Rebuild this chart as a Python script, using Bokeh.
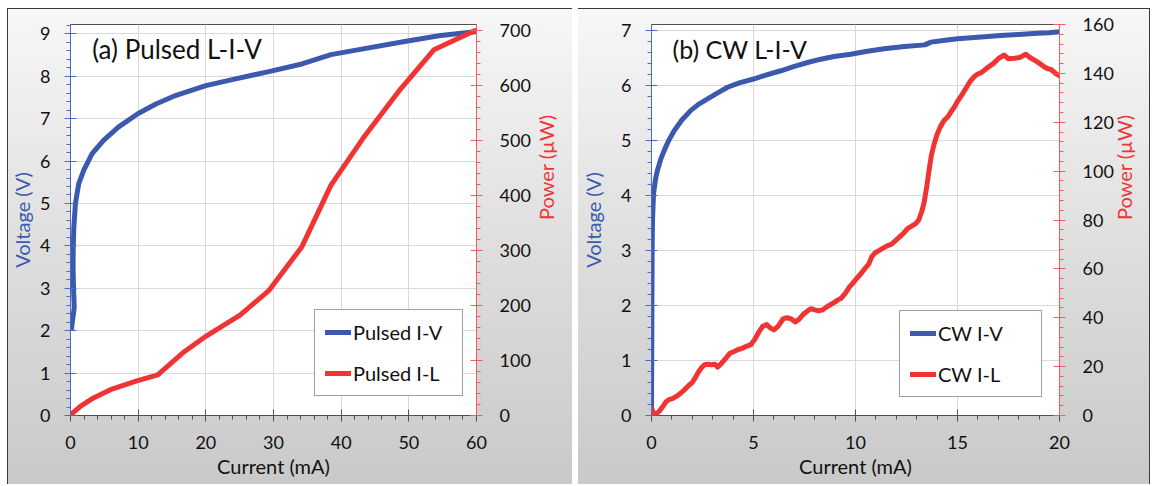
import math
import re
from bokeh.plotting import figure
from bokeh.models import Range1d, LinearAxis, SingleIntervalTicker, Legend, LegendItem, Label
from bokeh.layouts import row
from bokeh.embed import file_html
from bokeh.resources import INLINE

# ---------------- data ----------------
# (a) Pulsed
pulsed_iv_current = [0.15, 0.55, 0.45, 0.38, 0.40, 0.49, 0.73, 1.22, 1.95, 3.17, 4.88, 7.07, 10.0,
                     12.7, 15.6, 20.0, 23.9, 29.3, 34.2, 38.5, 42.0, 49.8, 54.7, 59.8]
pulsed_iv_voltage = [2.05, 2.55, 3.00, 3.50, 3.90, 4.44, 5.00, 5.47, 5.78, 6.17, 6.49, 6.80, 7.12,
                     7.35, 7.55, 7.78, 7.92, 8.11, 8.29, 8.51, 8.61, 8.83, 8.96, 9.05]
pulsed_il_current = [0.0, 1.5, 3.4, 5.9, 9.8, 12.9, 16.6, 20.0, 25.1, 29.3, 34.2, 38.5, 43.4, 48.8, 53.7, 59.8]
pulsed_il_power = [1, 17, 32, 47, 63, 74, 114, 144, 183, 227, 307, 419, 507, 594, 665, 700]

# (b) CW
cw_iv_current = [0.00, 0.01, 0.02, 0.03, 0.05, 0.10, 0.20, 0.29, 0.45, 0.62, 0.85, 1.11, 1.50, 1.93,
                 2.30, 2.75, 3.20, 3.73, 4.30, 5.00, 5.60, 6.34, 7.00, 7.65, 8.30, 8.95, 9.77, 10.50,
                 11.40, 12.40, 13.40, 13.70, 14.30, 15.00, 16.00, 17.10, 18.00, 18.90, 19.50, 20.00]
cw_iv_voltage = [0.00, 1.00, 2.00, 3.00, 3.55, 4.03, 4.30, 4.45, 4.65, 4.81, 5.00, 5.17, 5.37, 5.54,
                 5.65, 5.75, 5.85, 5.96, 6.04, 6.11, 6.18, 6.26, 6.34, 6.41, 6.47, 6.52, 6.56, 6.61,
                 6.66, 6.70, 6.73, 6.78, 6.81, 6.84, 6.87, 6.90, 6.92, 6.94, 6.95, 6.97]
cw_il_current = [0.00, 0.10, 0.20, 0.35, 0.50, 0.70, 0.86, 1.05, 1.25, 1.44, 1.65, 1.85, 2.00, 2.15,
                 2.30, 2.45, 2.60, 2.75, 2.95, 3.10, 3.25, 3.45, 3.65, 3.85, 4.05, 4.25, 4.45, 4.65,
                 4.87, 5.05, 5.25, 5.45, 5.65, 5.80, 6.00, 6.20, 6.45, 6.65, 6.85, 7.05, 7.25, 7.45,
                 7.65, 7.81, 8.00, 8.20, 8.38, 8.60, 8.80, 9.00, 9.12, 9.30, 9.50, 9.70, 9.85, 10.05,
                 10.26, 10.45, 10.65, 10.80, 10.95, 11.15, 11.35, 11.57, 11.75, 11.95, 12.15, 12.35,
                 12.55, 12.75, 12.95, 13.10, 13.25, 13.36, 13.48, 13.60, 13.72, 13.85, 14.00, 14.15,
                 14.34, 14.55, 14.70, 14.83, 15.00, 15.20, 15.40, 15.60, 15.80, 15.95, 16.20, 16.50,
                 16.75, 17.00, 17.28, 17.50, 17.80, 18.05, 18.35, 18.55, 18.75, 18.95, 19.20, 19.40,
                 19.60, 19.80, 20.00]
cw_il_power = [3.0, 1.0, 0.5, 1.5, 3.0, 5.5, 6.5, 7.0, 8.0, 9.2, 10.8, 12.5, 13.5, 15.5,
               17.8, 19.5, 20.8, 21.0, 20.8, 21.0, 19.8, 21.5, 23.5, 25.5, 26.2, 27.0, 27.5, 28.3,
               29.0, 31.0, 34.0, 36.5, 37.2, 36.0, 35.0, 36.5, 39.5, 40.0, 39.5, 38.3, 39.5, 41.5,
               42.8, 43.7, 43.2, 42.8, 43.2, 44.5, 45.5, 46.5, 47.2, 48.0, 50.0, 52.5, 54.0, 56.0,
               58.0, 60.0, 62.0, 65.0, 66.5, 67.5, 68.5, 69.5, 70.0, 71.5, 73.0, 74.5,
               76.5, 77.5, 78.5, 80.0, 83.5, 87.0, 93.0, 100.0, 106.5, 111.0, 115.0, 118.0,
               120.7, 122.5, 124.5, 126.0, 128.5, 131.0, 133.7, 136.5, 138.5, 139.5, 140.5, 142.5,
               144.0, 146.0, 147.5, 146.0, 146.2, 146.5, 147.8, 146.5, 145.5, 144.5, 143.0, 142.0,
               141.5, 140.0, 139.0]

panel_titles = ["(a) Pulsed L-I-V", "(b) CW L-I-V"]
legend_labels_a = ["Pulsed I-V", "Pulsed I-L"]
legend_labels_b = ["CW I-V", "CW I-L"]
x_title = "Current (mA)"
y_title = "Voltage (V)"
y2_title = "Power (\u00b5W)"

# ---------------- style ----------------
FONT = "Lato"
BLUE = "#3b59ad"
RED = "#f03434"
BLUE_AX = "#4a6cc8"
RED_AX = "#f25c5c"
GRID = "#d9d9d9"


def style_axis(ax, color, label, label_color, lab_standoff, ax_standoff):
    ax.axis_line_color = color
    ax.major_tick_line_color = color
    ax.minor_tick_line_color = color
    ax.major_tick_in = 6
    ax.major_tick_out = 6
    ax.minor_tick_in = 0
    ax.minor_tick_out = 4
    ax.major_label_text_font = FONT
    ax.major_label_text_font_size = "18px"
    ax.major_label_text_color = "#111111"
    ax.major_label_standoff = lab_standoff
    ax.axis_label = label
    ax.axis_label_text_font = FONT
    ax.axis_label_text_font_size = "20px"
    ax.axis_label_text_font_style = "normal"
    ax.axis_label_text_color = label_color
    ax.axis_label_standoff = ax_standoff


def make_panel(width, min_left, min_right, xmax, xint, ymax, yint, y2max, y2int,
               x1, y1, x2, y2, title, title_xy, title_size, labels, legend_loc, label_width,
               box_shadow, vlab_standoff, plab_standoff):
    p = figure(width=width, height=476, x_range=Range1d(0, xmax), y_range=Range1d(0, ymax),
               output_backend="svg", toolbar_location=None,
               min_border_left=min_left, min_border_right=min_right,
               min_border_top=16, min_border_bottom=69)
    p.border_fill_color = None
    p.background_fill_color = "white"
    p.outline_line_color = "#505050"
    p.outline_line_width = 1
    p.styles = {"background": "linear-gradient(180deg, #f7f7f7 0%, #dcdcdc 55%, #c9c9c9 100%)",
                "box-shadow": box_shadow}

    p.extra_y_ranges = {"pow": Range1d(0, y2max)}

    xax = p.xaxis[0]
    xax.ticker = SingleIntervalTicker(interval=xint, num_minor_ticks=5)
    style_axis(xax, "#505050", x_title, "#111111", 14, 2)

    yax = p.yaxis[0]
    yax.ticker = SingleIntervalTicker(interval=yint, num_minor_ticks=5)
    style_axis(yax, BLUE_AX, y_title, BLUE, 14, vlab_standoff)

    ax2 = LinearAxis(y_range_name="pow", ticker=SingleIntervalTicker(interval=y2int, num_minor_ticks=5))
    style_axis(ax2, RED_AX, y2_title, RED, 17, plab_standoff)
    try:
        ax2.axis_label_orientation = math.pi / 2
    except Exception:
        pass
    p.add_layout(ax2, "right")

    p.xgrid.ticker = xax.ticker
    p.ygrid.ticker = yax.ticker
    p.xgrid.grid_line_color = GRID
    p.ygrid.grid_line_color = GRID

    r1 = p.line(x1, y1, line_color=BLUE, line_width=5, line_join="round", line_cap="round")
    r2 = p.line(x2, y2, line_color=RED, line_width=5, line_join="round", line_cap="round",
                y_range_name="pow")

    p.add_layout(Label(x=title_xy[0], y=title_xy[1], text=title, text_font=FONT,
                       text_font_size=title_size, text_color="#111111", text_baseline="middle"))

    legend = Legend(items=[LegendItem(label=labels[0], renderers=[r1]),
                           LegendItem(label=labels[1], renderers=[r2])],
                    location=legend_loc)
    legend.border_line_color = "#404040"
    legend.border_line_width = 1
    legend.background_fill_color = "white"
    legend.background_fill_alpha = 1
    legend.label_text_font = FONT
    legend.label_text_font_size = "20px"
    legend.label_text_color = "#111111"
    legend.glyph_width = 26
    legend.glyph_height = 24
    legend.label_height = 24
    legend.label_width = label_width
    legend.label_standoff = 2
    legend.padding = 10
    legend.spacing = 17
    legend.margin = 0
    p.add_layout(legend)
    return p


pa = make_panel(565, 63, 94, 60, 10, 9.22, 1, 711, 100,
                pulsed_iv_current, pulsed_iv_voltage, pulsed_il_current, pulsed_il_power,
                panel_titles[0], (3.2, 8.65), "26px", legend_labels_a, (244, 19), 99,
                "inset 0 1px 0 #3a3a3a, inset 1px 0 0 #3a3a3a", 3, 12)
pb = make_panel(572, 73, 91, 20, 5, 7.1, 1, 160, 20,
                cw_iv_current, cw_iv_voltage, cw_il_current, cw_il_power,
                panel_titles[1], (1.03, 6.66), "25px", legend_labels_b, (248, 18), 93,
                "inset 0 1px 0 #3a3a3a, inset -1px 0 0 #3a3a3a", 13, 7)

layout = row(pa, pb, spacing=6, margin=(8, 0, 0, 7))

html = file_html(layout, INLINE)
html = re.sub(r"<body[^>]*>", '<body style="background:#fdfbf3">', html, count=1)
open("out.html", "w").write(html)
